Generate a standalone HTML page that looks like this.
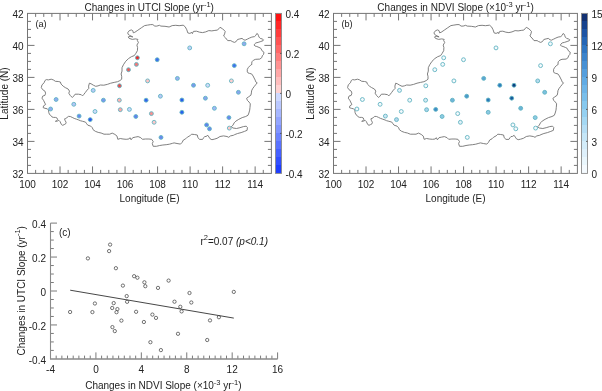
<!DOCTYPE html>
<html><head><meta charset="utf-8"><style>
html,body{margin:0;padding:0;background:#fff;}
body{width:602px;height:391px;overflow:hidden;font-family:"Liberation Sans", sans-serif;}
svg{display:block;filter:blur(0.35px);}
</style></head><body>
<svg width="602" height="391" viewBox="0 0 602 391" font-family='"Liberation Sans", sans-serif' fill="#222">
<rect width="602" height="391" fill="#fff"/>
<polygon points="127.7,32.8 129.2,30.7 131.3,29.9 132.8,30.7 133.3,32.8 134.8,32.3 137.9,30.2 141.5,27.7 144.6,25.6 147.6,25.1 150.7,24.6 152.8,24.6 154.8,26.1 156.8,26.1 159.4,25.3 160.9,26.1 165,26.3 169.1,27 172.2,25.6 175.8,25.3 179.1,25.7 183.2,25.2 185.2,26.8 186.8,29.8 187.8,32.9 189.8,33.4 191.9,32.4 192.4,33.6 193.4,31.4 196.5,31.2 199.6,32.2 202.6,32.6 205.7,31.9 208.8,30.6 211.8,30.9 214.9,30.4 217.5,30.1 220,27.3 222.6,28.8 225.2,31.4 224.6,33.9 223.6,36 225.7,38 227.7,40.6 230.8,40.6 232.2,41.5 234.4,42.4 236.2,41.5 237.5,39.5 239.8,38.9 242,38.4 243.8,39.8 245.1,40.2 247.4,39.1 249.6,38 251.8,37.1 254.5,36.6 255.9,35.3 256.8,33.5 258.1,34.4 258.5,35.7 259,37.1 260.3,38.4 262.1,38.9 263.5,39.8 263,40.7 260.8,41.5 258.1,42.4 255.9,42.9 254.5,44.2 254.1,45.1 255,46 256.8,46.5 259,47.4 260.8,48.3 261.7,50 262.6,51.4 264,52.3 263.5,54.5 262.3,55.8 261.8,57.6 259.8,59.1 255.7,59.3 253.6,60.1 252.1,61.6 251.6,63.2 252.1,64.2 250.6,65.2 248.5,67.3 247.3,69.3 247.3,71.9 248,72.9 249.5,73.4 251.6,73.9 253.1,76 254.1,78 255.2,80.1 255.7,81.8 257.2,82.8 255.7,84.7 254.1,86.7 252.6,88.7 251.6,90.8 251.4,92.9 250.9,95.2 248.5,96.9 246.6,98.3 247.4,100.4 249.1,102.1 250.3,103.8 250,107.3 249.7,110.1 248.9,113 248,115.3 245.7,116.5 242.2,117.6 238.8,119.3 235.9,121.1 234.2,122.8 233,125.1 231.3,126.8 233,128 236.5,128.5 239.9,127.7 243.4,126.6 246.2,126.2 247.4,127.4 247.1,130.3 244.5,131.4 241.1,132.6 237.6,133.5 234.7,134.6 233.4,135.3 230.5,135.9 228.7,137.3 227,136.5 223.5,135.9 220,136.5 217.1,138.3 214.2,139.2 211.9,139.7 210.1,138.8 209,137.1 207.8,135.3 206,136.5 204.7,136.5 203.7,137.7 202.6,139.4 199.7,139.4 197.9,137.7 197.3,135 194.4,134.5 191.5,134.2 189.8,135.9 187.4,137.1 185.7,138.8 183.4,140 182.2,142.3 180.5,144.1 177,143.5 174.1,142.9 172.6,143.3 169.4,144.2 166.2,144.7 162.9,145 159.7,145.5 156.4,146.3 153.2,146.3 152.3,143.6 153.2,141.5 151.6,139.3 148.9,139 145.6,139 142.4,139.3 140.8,137.7 138.1,136.6 135.4,137.1 132.7,137.7 131.1,139.8 130,137.7 128.9,139 126.2,139.3 123,139 120.3,138.5 117.8,139.3 117,136.1 114.9,134.4 112.2,133.1 109.7,134.2 106.8,134.2 104,134.2 101.1,133 98.2,132.4 95.3,131.3 93,129.6 92.4,127.8 90.7,126.1 87.8,125.2 86.7,123.8 85.5,122.1 82.6,121.3 80.3,120.7 78.8,120 76.5,119.2 74.2,118.4 72.2,117.4 70.3,116.5 68.4,116.4 66.9,117.7 65.7,118.4 64.6,118.8 65,120.3 66.1,122.3 65.7,123.8 64.2,124.6 62.7,125.3 61.5,124.6 60.7,123 60,121.5 58.8,120.3 57.3,121.1 55.4,121.3 56.5,120.7 57.7,119.6 56.9,117.9 55.4,117.4 53.4,117.4 51.9,116.9 50.8,115.4 49.6,114.6 48.8,112.7 48.5,110 47.3,108.8 45,108.3 43.2,107.7 43.5,105.9 45.6,104.5 44.9,103.1 43.5,100.3 42,98.2 42.7,96.1 44.9,95.4 45.6,93.2 44.9,91.1 42.7,89.7 41.3,87.6 42,84.8 44.2,82.7 44.9,80.6 46.3,79.6 48.4,79.9 51.2,79.2 53.3,79.9 55.4,81.3 58.2,81.5 60.4,82 61.1,84.1 63.2,86.2 65.3,87.6 68.1,89 69.5,91.1 68.8,93.2 70.2,95.4 72.3,97.5 73.7,96.1 75.1,94.2 78.5,94.2 81.3,94.7 82.5,95.9 83.6,94.7 85.4,92.4 87.1,90.1 88.8,88.4 88.6,86.1 89.4,83.2 91.1,83.8 93.4,85.2 95.7,86.3 98,85.9 100.3,85 103.8,85.2 107.3,84.4 110.7,83.2 114.2,82.4 117.6,81.7 119.9,80.6 121.7,79.2 121.7,76.3 121.1,74 122,71.1 122,67.7 123.4,64.8 125.7,61.3 128.6,58.5 131.4,56.7 134.3,55.6 135.9,53.3 137.4,50.7 137.6,47.6 136.9,45.1 138.4,42.5 137.4,40.5 137.9,39.4 135.4,38.9 132.3,39.4 129.2,38.4 128.2,36.9 130.2,36.4 132.8,36.9 129.7,35.4 128.2,34.3" fill="none" stroke="#727272" stroke-width="0.9" stroke-linejoin="round"/>
<circle cx="56.1" cy="99.5" r="1.95" fill="#8eabf3" stroke="#62b4c2" stroke-width="0.9"/>
<circle cx="73.8" cy="104.3" r="1.95" fill="#b4c6f8" stroke="#62b4c2" stroke-width="0.9"/>
<circle cx="50.6" cy="109" r="1.95" fill="#93adf3" stroke="#62b4c2" stroke-width="0.9"/>
<circle cx="93.2" cy="90.4" r="1.95" fill="#b8cbf8" stroke="#62b4c2" stroke-width="0.9"/>
<circle cx="95" cy="111.5" r="1.95" fill="#d0dcfc" stroke="#62b4c2" stroke-width="0.9"/>
<circle cx="79.1" cy="116.1" r="1.95" fill="#6488f0" stroke="#62b4c2" stroke-width="0.9"/>
<circle cx="90.2" cy="119.6" r="1.95" fill="#2a55f0" stroke="#62b4c2" stroke-width="0.9"/>
<circle cx="136.4" cy="64.4" r="1.95" fill="#f27878" stroke="#62b4c2" stroke-width="0.9"/>
<circle cx="128.5" cy="69.7" r="1.95" fill="#f05a5a" stroke="#62b4c2" stroke-width="0.9"/>
<circle cx="119.5" cy="85.8" r="1.95" fill="#f04a4a" stroke="#62b4c2" stroke-width="0.9"/>
<circle cx="147.6" cy="80.9" r="1.95" fill="#ffc4c4" stroke="#62b4c2" stroke-width="0.9"/>
<circle cx="103.4" cy="100.2" r="1.95" fill="#7898f0" stroke="#62b4c2" stroke-width="0.9"/>
<circle cx="119.3" cy="100.2" r="1.95" fill="#ffb4b4" stroke="#62b4c2" stroke-width="0.9"/>
<circle cx="146.1" cy="100.2" r="1.95" fill="#3262f0" stroke="#62b4c2" stroke-width="0.9"/>
<circle cx="137.4" cy="57.8" r="1.95" fill="#f02a2a" stroke="#62b4c2" stroke-width="0.9"/>
<circle cx="157.2" cy="59.7" r="1.95" fill="#3c6ef0" stroke="#62b4c2" stroke-width="0.9"/>
<circle cx="189.7" cy="47.9" r="1.95" fill="#c2d2fc" stroke="#62b4c2" stroke-width="0.9"/>
<circle cx="177.4" cy="78.4" r="1.95" fill="#98b0f4" stroke="#62b4c2" stroke-width="0.9"/>
<circle cx="193.5" cy="85.3" r="1.95" fill="#7898f0" stroke="#62b4c2" stroke-width="0.9"/>
<circle cx="207.7" cy="85.3" r="1.95" fill="#d0dcfc" stroke="#62b4c2" stroke-width="0.9"/>
<circle cx="160.4" cy="96.2" r="1.95" fill="#b8c8f8" stroke="#62b4c2" stroke-width="0.9"/>
<circle cx="181.9" cy="100" r="1.95" fill="#2858f0" stroke="#62b4c2" stroke-width="0.9"/>
<circle cx="205.4" cy="98.2" r="1.95" fill="#88a4f0" stroke="#62b4c2" stroke-width="0.9"/>
<circle cx="181.9" cy="112.3" r="1.95" fill="#2860f0" stroke="#62b4c2" stroke-width="0.9"/>
<circle cx="151.4" cy="113.6" r="1.95" fill="#f89090" stroke="#62b4c2" stroke-width="0.9"/>
<circle cx="120.3" cy="109.7" r="1.95" fill="#ffa8a8" stroke="#62b4c2" stroke-width="0.9"/>
<circle cx="129.4" cy="109.4" r="1.95" fill="#c8d8fc" stroke="#62b4c2" stroke-width="0.9"/>
<circle cx="135.8" cy="116.5" r="1.95" fill="#6080f0" stroke="#62b4c2" stroke-width="0.9"/>
<circle cx="154.1" cy="122.3" r="1.95" fill="#ffc8c8" stroke="#62b4c2" stroke-width="0.9"/>
<circle cx="161" cy="137.4" r="1.95" fill="#6888f0" stroke="#62b4c2" stroke-width="0.9"/>
<circle cx="234.3" cy="65.6" r="1.95" fill="#4070f0" stroke="#62b4c2" stroke-width="0.9"/>
<circle cx="231.4" cy="80.9" r="1.95" fill="#ffd0d0" stroke="#62b4c2" stroke-width="0.9"/>
<circle cx="238.4" cy="92.3" r="1.95" fill="#88a4f0" stroke="#62b4c2" stroke-width="0.9"/>
<circle cx="214.4" cy="108.3" r="1.95" fill="#a0b8f8" stroke="#62b4c2" stroke-width="0.9"/>
<circle cx="228.9" cy="117.6" r="1.95" fill="#6888f0" stroke="#62b4c2" stroke-width="0.9"/>
<circle cx="206.6" cy="124.9" r="1.95" fill="#5c80f0" stroke="#62b4c2" stroke-width="0.9"/>
<circle cx="209.5" cy="128.8" r="1.95" fill="#6888f0" stroke="#62b4c2" stroke-width="0.9"/>
<circle cx="229.3" cy="128.1" r="1.95" fill="#ffc8c8" stroke="#62b4c2" stroke-width="0.9"/>
<circle cx="244.1" cy="43.8" r="1.95" fill="#90a8f0" stroke="#62b4c2" stroke-width="0.9"/>
<path d="M35.63 173.4V169.9M35.63 13.4V16.9M43.76 173.4V169.9M43.76 13.4V16.9M51.89 173.4V169.9M51.89 13.4V16.9M60.02 173.4V166.4M60.02 13.4V20.4M68.15 173.4V169.9M68.15 13.4V16.9M76.28 173.4V169.9M76.28 13.4V16.9M84.41 173.4V169.9M84.41 13.4V16.9M92.54 173.4V166.4M92.54 13.4V20.4M100.67 173.4V169.9M100.67 13.4V16.9M108.8 173.4V169.9M108.8 13.4V16.9M116.93 173.4V169.9M116.93 13.4V16.9M125.06 173.4V166.4M125.06 13.4V20.4M133.19 173.4V169.9M133.19 13.4V16.9M141.32 173.4V169.9M141.32 13.4V16.9M149.45 173.4V169.9M149.45 13.4V16.9M157.58 173.4V166.4M157.58 13.4V20.4M165.71 173.4V169.9M165.71 13.4V16.9M173.84 173.4V169.9M173.84 13.4V16.9M181.97 173.4V169.9M181.97 13.4V16.9M190.1 173.4V166.4M190.1 13.4V20.4M198.23 173.4V169.9M198.23 13.4V16.9M206.36 173.4V169.9M206.36 13.4V16.9M214.49 173.4V169.9M214.49 13.4V16.9M222.62 173.4V166.4M222.62 13.4V20.4M230.75 173.4V169.9M230.75 13.4V16.9M238.88 173.4V169.9M238.88 13.4V16.9M247.01 173.4V169.9M247.01 13.4V16.9M255.14 173.4V166.4M255.14 13.4V20.4M263.27 173.4V169.9M263.27 13.4V16.9M27.5 165.4H31M271.4 165.4H267.9M27.5 157.4H31M271.4 157.4H267.9M27.5 149.4H31M271.4 149.4H267.9M27.5 141.4H34.5M271.4 141.4H264.4M27.5 133.4H31M271.4 133.4H267.9M27.5 125.4H31M271.4 125.4H267.9M27.5 117.4H31M271.4 117.4H267.9M27.5 109.4H34.5M271.4 109.4H264.4M27.5 101.4H31M271.4 101.4H267.9M27.5 93.4H31M271.4 93.4H267.9M27.5 85.4H31M271.4 85.4H267.9M27.5 77.4H34.5M271.4 77.4H264.4M27.5 69.4H31M271.4 69.4H267.9M27.5 61.4H31M271.4 61.4H267.9M27.5 53.4H31M271.4 53.4H267.9M27.5 45.4H34.5M271.4 45.4H264.4M27.5 37.4H31M271.4 37.4H267.9M27.5 29.4H31M271.4 29.4H267.9M27.5 21.4H31M271.4 21.4H267.9" stroke="#757575" stroke-width="1" fill="none"/>
<rect x="27.5" y="13.4" width="243.9" height="160" fill="none" stroke="#757575" stroke-width="1"/>
<text x="27.5" y="187.5" text-anchor="middle" font-size="10">100</text>
<text x="60.02" y="187.5" text-anchor="middle" font-size="10">102</text>
<text x="92.54" y="187.5" text-anchor="middle" font-size="10">104</text>
<text x="125.06" y="187.5" text-anchor="middle" font-size="10">106</text>
<text x="157.58" y="187.5" text-anchor="middle" font-size="10">108</text>
<text x="190.1" y="187.5" text-anchor="middle" font-size="10">110</text>
<text x="222.62" y="187.5" text-anchor="middle" font-size="10">112</text>
<text x="255.14" y="187.5" text-anchor="middle" font-size="10">114</text>
<text x="23.5" y="178.1" text-anchor="end" font-size="10">32</text>
<text x="23.5" y="146.1" text-anchor="end" font-size="10">34</text>
<text x="23.5" y="114.1" text-anchor="end" font-size="10">36</text>
<text x="23.5" y="82.1" text-anchor="end" font-size="10">38</text>
<text x="23.5" y="50.1" text-anchor="end" font-size="10">40</text>
<text x="23.5" y="18.1" text-anchor="end" font-size="10">42</text>
<text x="149.55" y="201.6" text-anchor="middle" font-size="10">Longitude (E)</text>
<text transform="translate(8.3,93.5) rotate(-90)" text-anchor="middle" font-size="10">Latitude (N)</text>
<text x="149.2" y="11.1" text-anchor="middle" font-size="10">Changes in UTCI Slope (yr<tspan dy="-4.3" font-size="7.5">-1</tspan><tspan dy="4.3">)</tspan></text>
<text x="35.4" y="26.5" text-anchor="start" font-size="9.2">(a)</text>
<defs><linearGradient id="g0" x1="0" y1="0" x2="0" y2="1"><stop offset="0" stop-color="#ff1212"/><stop offset="0.05" stop-color="#ff1212"/><stop offset="0.05" stop-color="#ff2727"/><stop offset="0.1" stop-color="#ff2727"/><stop offset="0.1" stop-color="#ff3d3d"/><stop offset="0.15" stop-color="#ff3d3d"/><stop offset="0.15" stop-color="#ff5252"/><stop offset="0.2" stop-color="#ff5252"/><stop offset="0.2" stop-color="#ff6767"/><stop offset="0.25" stop-color="#ff6767"/><stop offset="0.25" stop-color="#ff7d7d"/><stop offset="0.3" stop-color="#ff7d7d"/><stop offset="0.3" stop-color="#ff9292"/><stop offset="0.35" stop-color="#ff9292"/><stop offset="0.35" stop-color="#ffa7a7"/><stop offset="0.4" stop-color="#ffa7a7"/><stop offset="0.4" stop-color="#ffbdbd"/><stop offset="0.45" stop-color="#ffbdbd"/><stop offset="0.45" stop-color="#ffd2d2"/><stop offset="0.5" stop-color="#ffd2d2"/><stop offset="0.5" stop-color="#ced9ff"/><stop offset="0.55" stop-color="#ced9ff"/><stop offset="0.55" stop-color="#bac8ff"/><stop offset="0.6" stop-color="#bac8ff"/><stop offset="0.6" stop-color="#a7b7ff"/><stop offset="0.65" stop-color="#a7b7ff"/><stop offset="0.65" stop-color="#93a5ff"/><stop offset="0.7" stop-color="#93a5ff"/><stop offset="0.7" stop-color="#8094ff"/><stop offset="0.75" stop-color="#8094ff"/><stop offset="0.75" stop-color="#6c83ff"/><stop offset="0.8" stop-color="#6c83ff"/><stop offset="0.8" stop-color="#5972ff"/><stop offset="0.85" stop-color="#5972ff"/><stop offset="0.85" stop-color="#4560ff"/><stop offset="0.9" stop-color="#4560ff"/><stop offset="0.9" stop-color="#324fff"/><stop offset="0.95" stop-color="#324fff"/><stop offset="0.95" stop-color="#1e3eff"/><stop offset="1" stop-color="#1e3eff"/></linearGradient></defs>
<rect x="275.5" y="13.4" width="6" height="160" fill="url(#g0)" stroke="#8a8a8a" stroke-width="0.9"/>
<text x="285.4" y="17.6" text-anchor="start" font-size="10">0.4</text>
<path d="M280 53.4H281.5" stroke="#444" stroke-width="0.8"/>
<text x="285.4" y="57.6" text-anchor="start" font-size="10">0.2</text>
<path d="M280 93.4H281.5" stroke="#444" stroke-width="0.8"/>
<text x="285.4" y="97.6" text-anchor="start" font-size="10">0</text>
<path d="M280 133.4H281.5" stroke="#444" stroke-width="0.8"/>
<text x="285.4" y="137.6" text-anchor="start" font-size="10">-0.2</text>
<text x="285.4" y="177.6" text-anchor="start" font-size="10">-0.4</text>
<polygon points="434,32.8 435.5,30.7 437.6,29.9 439.1,30.7 439.6,32.8 441.1,32.3 444.2,30.2 447.8,27.7 450.9,25.6 453.9,25.1 457,24.6 459.1,24.6 461.1,26.1 463.1,26.1 465.7,25.3 467.2,26.1 471.3,26.3 475.4,27 478.5,25.6 482.1,25.3 485.4,25.7 489.5,25.2 491.5,26.8 493.1,29.8 494.1,32.9 496.1,33.4 498.2,32.4 498.7,33.6 499.7,31.4 502.8,31.2 505.9,32.2 508.9,32.6 512,31.9 515.1,30.6 518.1,30.9 521.2,30.4 523.8,30.1 526.3,27.3 528.9,28.8 531.5,31.4 530.9,33.9 529.9,36 532,38 534,40.6 537.1,40.6 538.5,41.5 540.7,42.4 542.5,41.5 543.8,39.5 546.1,38.9 548.3,38.4 550.1,39.8 551.4,40.2 553.7,39.1 555.9,38 558.1,37.1 560.8,36.6 562.2,35.3 563.1,33.5 564.4,34.4 564.8,35.7 565.3,37.1 566.6,38.4 568.4,38.9 569.8,39.8 569.3,40.7 567.1,41.5 564.4,42.4 562.2,42.9 560.8,44.2 560.4,45.1 561.3,46 563.1,46.5 565.3,47.4 567.1,48.3 568,50 568.9,51.4 570.3,52.3 569.8,54.5 568.6,55.8 568.1,57.6 566.1,59.1 562,59.3 559.9,60.1 558.4,61.6 557.9,63.2 558.4,64.2 556.9,65.2 554.8,67.3 553.6,69.3 553.6,71.9 554.3,72.9 555.8,73.4 557.9,73.9 559.4,76 560.4,78 561.5,80.1 562,81.8 563.5,82.8 562,84.7 560.4,86.7 558.9,88.7 557.9,90.8 557.7,92.9 557.2,95.2 554.8,96.9 552.9,98.3 553.7,100.4 555.4,102.1 556.6,103.8 556.3,107.3 556,110.1 555.2,113 554.3,115.3 552,116.5 548.5,117.6 545.1,119.3 542.2,121.1 540.5,122.8 539.3,125.1 537.6,126.8 539.3,128 542.8,128.5 546.2,127.7 549.7,126.6 552.5,126.2 553.7,127.4 553.4,130.3 550.8,131.4 547.4,132.6 543.9,133.5 541,134.6 539.7,135.3 536.8,135.9 535,137.3 533.3,136.5 529.8,135.9 526.3,136.5 523.4,138.3 520.5,139.2 518.2,139.7 516.4,138.8 515.3,137.1 514.1,135.3 512.3,136.5 511,136.5 510,137.7 508.9,139.4 506,139.4 504.2,137.7 503.6,135 500.7,134.5 497.8,134.2 496.1,135.9 493.7,137.1 492,138.8 489.7,140 488.5,142.3 486.8,144.1 483.3,143.5 480.4,142.9 478.9,143.3 475.7,144.2 472.5,144.7 469.2,145 466,145.5 462.7,146.3 459.5,146.3 458.6,143.6 459.5,141.5 457.9,139.3 455.2,139 451.9,139 448.7,139.3 447.1,137.7 444.4,136.6 441.7,137.1 439,137.7 437.4,139.8 436.3,137.7 435.2,139 432.5,139.3 429.3,139 426.6,138.5 424.1,139.3 423.3,136.1 421.2,134.4 418.5,133.1 416,134.2 413.1,134.2 410.3,134.2 407.4,133 404.5,132.4 401.6,131.3 399.3,129.6 398.7,127.8 397,126.1 394.1,125.2 393,123.8 391.8,122.1 388.9,121.3 386.6,120.7 385.1,120 382.8,119.2 380.5,118.4 378.5,117.4 376.6,116.5 374.7,116.4 373.2,117.7 372,118.4 370.9,118.8 371.3,120.3 372.4,122.3 372,123.8 370.5,124.6 369,125.3 367.8,124.6 367,123 366.3,121.5 365.1,120.3 363.6,121.1 361.7,121.3 362.8,120.7 364,119.6 363.2,117.9 361.7,117.4 359.7,117.4 358.2,116.9 357.1,115.4 355.9,114.6 355.1,112.7 354.8,110 353.6,108.8 351.3,108.3 349.5,107.7 349.8,105.9 351.9,104.5 351.2,103.1 349.8,100.3 348.3,98.2 349,96.1 351.2,95.4 351.9,93.2 351.2,91.1 349,89.7 347.6,87.6 348.3,84.8 350.5,82.7 351.2,80.6 352.6,79.6 354.7,79.9 357.5,79.2 359.6,79.9 361.7,81.3 364.5,81.5 366.7,82 367.4,84.1 369.5,86.2 371.6,87.6 374.4,89 375.8,91.1 375.1,93.2 376.5,95.4 378.6,97.5 380,96.1 381.4,94.2 384.8,94.2 387.6,94.7 388.8,95.9 389.9,94.7 391.7,92.4 393.4,90.1 395.1,88.4 394.9,86.1 395.7,83.2 397.4,83.8 399.7,85.2 402,86.3 404.3,85.9 406.6,85 410.1,85.2 413.6,84.4 417,83.2 420.5,82.4 423.9,81.7 426.2,80.6 428,79.2 428,76.3 427.4,74 428.3,71.1 428.3,67.7 429.7,64.8 432,61.3 434.9,58.5 437.7,56.7 440.6,55.6 442.2,53.3 443.7,50.7 443.9,47.6 443.2,45.1 444.7,42.5 443.7,40.5 444.2,39.4 441.7,38.9 438.6,39.4 435.5,38.4 434.5,36.9 436.5,36.4 439.1,36.9 436,35.4 434.5,34.3" fill="none" stroke="#727272" stroke-width="0.9" stroke-linejoin="round"/>
<circle cx="362.4" cy="99.5" r="1.95" fill="#f4f9fd" stroke="#62b4c2" stroke-width="0.9"/>
<circle cx="380.1" cy="104.3" r="1.95" fill="#f4f9fd" stroke="#62b4c2" stroke-width="0.9"/>
<circle cx="356.9" cy="109" r="1.95" fill="#f4f9fd" stroke="#62b4c2" stroke-width="0.9"/>
<circle cx="399.5" cy="90.4" r="1.95" fill="#e4f0f9" stroke="#62b4c2" stroke-width="0.9"/>
<circle cx="401.3" cy="111.5" r="1.95" fill="#f4f9fd" stroke="#62b4c2" stroke-width="0.9"/>
<circle cx="385.4" cy="116.1" r="1.95" fill="#cfe5f3" stroke="#62b4c2" stroke-width="0.9"/>
<circle cx="396.5" cy="119.6" r="1.95" fill="#b4d6ec" stroke="#62b4c2" stroke-width="0.9"/>
<circle cx="442.7" cy="64.4" r="1.95" fill="#f4f9fd" stroke="#62b4c2" stroke-width="0.9"/>
<circle cx="434.8" cy="69.7" r="1.95" fill="#f4f9fd" stroke="#62b4c2" stroke-width="0.9"/>
<circle cx="425.8" cy="85.8" r="1.95" fill="#f4f9fd" stroke="#62b4c2" stroke-width="0.9"/>
<circle cx="453.9" cy="80.9" r="1.95" fill="#f4f9fd" stroke="#62b4c2" stroke-width="0.9"/>
<circle cx="409.7" cy="100.2" r="1.95" fill="#eef6fb" stroke="#62b4c2" stroke-width="0.9"/>
<circle cx="425.6" cy="100.2" r="1.95" fill="#d6ebf5" stroke="#62b4c2" stroke-width="0.9"/>
<circle cx="452.4" cy="100.2" r="1.95" fill="#6fb4da" stroke="#62b4c2" stroke-width="0.9"/>
<circle cx="443.7" cy="57.8" r="1.95" fill="#f4f9fd" stroke="#62b4c2" stroke-width="0.9"/>
<circle cx="463.5" cy="59.7" r="1.95" fill="#f4f9fd" stroke="#62b4c2" stroke-width="0.9"/>
<circle cx="496" cy="47.9" r="1.95" fill="#f4f9fd" stroke="#62b4c2" stroke-width="0.9"/>
<circle cx="483.7" cy="78.4" r="1.95" fill="#5ba5d4" stroke="#62b4c2" stroke-width="0.9"/>
<circle cx="499.8" cy="85.3" r="1.95" fill="#2d7cbf" stroke="#62b4c2" stroke-width="0.9"/>
<circle cx="514" cy="85.3" r="1.95" fill="#0c3f82" stroke="#62b4c2" stroke-width="0.9"/>
<circle cx="466.7" cy="96.2" r="1.95" fill="#4a98cc" stroke="#62b4c2" stroke-width="0.9"/>
<circle cx="488.2" cy="100" r="1.95" fill="#2a78bb" stroke="#62b4c2" stroke-width="0.9"/>
<circle cx="511.7" cy="98.2" r="1.95" fill="#185a9c" stroke="#62b4c2" stroke-width="0.9"/>
<circle cx="488.2" cy="112.3" r="1.95" fill="#8cc8e4" stroke="#62b4c2" stroke-width="0.9"/>
<circle cx="457.7" cy="113.6" r="1.95" fill="#f4f9fd" stroke="#62b4c2" stroke-width="0.9"/>
<circle cx="426.6" cy="109.7" r="1.95" fill="#a8d4ec" stroke="#62b4c2" stroke-width="0.9"/>
<circle cx="435.7" cy="109.4" r="1.95" fill="#3c8cc8" stroke="#62b4c2" stroke-width="0.9"/>
<circle cx="442.1" cy="116.5" r="1.95" fill="#8ccae4" stroke="#62b4c2" stroke-width="0.9"/>
<circle cx="460.4" cy="122.3" r="1.95" fill="#e0f0f8" stroke="#62b4c2" stroke-width="0.9"/>
<circle cx="467.3" cy="137.4" r="1.95" fill="#f4f9fd" stroke="#62b4c2" stroke-width="0.9"/>
<circle cx="540.6" cy="65.6" r="1.95" fill="#f4f9fd" stroke="#62b4c2" stroke-width="0.9"/>
<circle cx="537.7" cy="80.9" r="1.95" fill="#b4daee" stroke="#62b4c2" stroke-width="0.9"/>
<circle cx="544.7" cy="92.3" r="1.95" fill="#7cc0e0" stroke="#62b4c2" stroke-width="0.9"/>
<circle cx="520.7" cy="108.3" r="1.95" fill="#6cb4d8" stroke="#62b4c2" stroke-width="0.9"/>
<circle cx="535.2" cy="117.6" r="1.95" fill="#8ccae4" stroke="#62b4c2" stroke-width="0.9"/>
<circle cx="512.9" cy="124.9" r="1.95" fill="#f4f9fd" stroke="#62b4c2" stroke-width="0.9"/>
<circle cx="515.8" cy="128.8" r="1.95" fill="#f4f9fd" stroke="#62b4c2" stroke-width="0.9"/>
<circle cx="535.6" cy="128.1" r="1.95" fill="#f4f9fd" stroke="#62b4c2" stroke-width="0.9"/>
<circle cx="550.4" cy="43.8" r="1.95" fill="#f4f9fd" stroke="#62b4c2" stroke-width="0.9"/>
<path d="M341.63 173.4V169.9M341.63 13.4V16.9M349.76 173.4V169.9M349.76 13.4V16.9M357.89 173.4V169.9M357.89 13.4V16.9M366.02 173.4V166.4M366.02 13.4V20.4M374.15 173.4V169.9M374.15 13.4V16.9M382.28 173.4V169.9M382.28 13.4V16.9M390.41 173.4V169.9M390.41 13.4V16.9M398.54 173.4V166.4M398.54 13.4V20.4M406.67 173.4V169.9M406.67 13.4V16.9M414.8 173.4V169.9M414.8 13.4V16.9M422.93 173.4V169.9M422.93 13.4V16.9M431.06 173.4V166.4M431.06 13.4V20.4M439.19 173.4V169.9M439.19 13.4V16.9M447.32 173.4V169.9M447.32 13.4V16.9M455.45 173.4V169.9M455.45 13.4V16.9M463.58 173.4V166.4M463.58 13.4V20.4M471.71 173.4V169.9M471.71 13.4V16.9M479.84 173.4V169.9M479.84 13.4V16.9M487.97 173.4V169.9M487.97 13.4V16.9M496.1 173.4V166.4M496.1 13.4V20.4M504.23 173.4V169.9M504.23 13.4V16.9M512.36 173.4V169.9M512.36 13.4V16.9M520.49 173.4V169.9M520.49 13.4V16.9M528.62 173.4V166.4M528.62 13.4V20.4M536.75 173.4V169.9M536.75 13.4V16.9M544.88 173.4V169.9M544.88 13.4V16.9M553.01 173.4V169.9M553.01 13.4V16.9M561.14 173.4V166.4M561.14 13.4V20.4M569.27 173.4V169.9M569.27 13.4V16.9M333.5 165.4H337M577.4 165.4H573.9M333.5 157.4H337M577.4 157.4H573.9M333.5 149.4H337M577.4 149.4H573.9M333.5 141.4H340.5M577.4 141.4H570.4M333.5 133.4H337M577.4 133.4H573.9M333.5 125.4H337M577.4 125.4H573.9M333.5 117.4H337M577.4 117.4H573.9M333.5 109.4H340.5M577.4 109.4H570.4M333.5 101.4H337M577.4 101.4H573.9M333.5 93.4H337M577.4 93.4H573.9M333.5 85.4H337M577.4 85.4H573.9M333.5 77.4H340.5M577.4 77.4H570.4M333.5 69.4H337M577.4 69.4H573.9M333.5 61.4H337M577.4 61.4H573.9M333.5 53.4H337M577.4 53.4H573.9M333.5 45.4H340.5M577.4 45.4H570.4M333.5 37.4H337M577.4 37.4H573.9M333.5 29.4H337M577.4 29.4H573.9M333.5 21.4H337M577.4 21.4H573.9" stroke="#757575" stroke-width="1" fill="none"/>
<rect x="333.5" y="13.4" width="243.9" height="160" fill="none" stroke="#757575" stroke-width="1"/>
<text x="333.5" y="187.5" text-anchor="middle" font-size="10">100</text>
<text x="366.02" y="187.5" text-anchor="middle" font-size="10">102</text>
<text x="398.54" y="187.5" text-anchor="middle" font-size="10">104</text>
<text x="431.06" y="187.5" text-anchor="middle" font-size="10">106</text>
<text x="463.58" y="187.5" text-anchor="middle" font-size="10">108</text>
<text x="496.1" y="187.5" text-anchor="middle" font-size="10">110</text>
<text x="528.62" y="187.5" text-anchor="middle" font-size="10">112</text>
<text x="561.14" y="187.5" text-anchor="middle" font-size="10">114</text>
<text x="329.5" y="178.1" text-anchor="end" font-size="10">32</text>
<text x="329.5" y="146.1" text-anchor="end" font-size="10">34</text>
<text x="329.5" y="114.1" text-anchor="end" font-size="10">36</text>
<text x="329.5" y="82.1" text-anchor="end" font-size="10">38</text>
<text x="329.5" y="50.1" text-anchor="end" font-size="10">40</text>
<text x="329.5" y="18.1" text-anchor="end" font-size="10">42</text>
<text x="455.55" y="201.6" text-anchor="middle" font-size="10">Longitude (E)</text>
<text transform="translate(314.3,93.5) rotate(-90)" text-anchor="middle" font-size="10">Latitude (N)</text>
<text x="455.6" y="11.1" text-anchor="middle" font-size="10">Changes in NDVI Slope (×10<tspan dy="-4.3" font-size="7.5">-3</tspan><tspan dy="4.3"> yr</tspan><tspan dy="-4.3" font-size="7.5">-1</tspan><tspan dy="4.3">)</tspan></text>
<text x="341.4" y="26.5" text-anchor="start" font-size="9.2">(b)</text>
<defs><linearGradient id="g306" x1="0" y1="0" x2="0" y2="1"><stop offset="0" stop-color="#123172"/><stop offset="0.05" stop-color="#123172"/><stop offset="0.05" stop-color="#16428d"/><stop offset="0.1" stop-color="#16428d"/><stop offset="0.1" stop-color="#1d54a4"/><stop offset="0.15" stop-color="#1d54a4"/><stop offset="0.15" stop-color="#2465b5"/><stop offset="0.2" stop-color="#2465b5"/><stop offset="0.2" stop-color="#2e75c2"/><stop offset="0.25" stop-color="#2e75c2"/><stop offset="0.25" stop-color="#3b83cb"/><stop offset="0.3" stop-color="#3b83cb"/><stop offset="0.3" stop-color="#4790d4"/><stop offset="0.35" stop-color="#4790d4"/><stop offset="0.35" stop-color="#549edd"/><stop offset="0.4" stop-color="#549edd"/><stop offset="0.4" stop-color="#60aae3"/><stop offset="0.45" stop-color="#60aae3"/><stop offset="0.45" stop-color="#6db4e7"/><stop offset="0.5" stop-color="#6db4e7"/><stop offset="0.5" stop-color="#79beea"/><stop offset="0.55" stop-color="#79beea"/><stop offset="0.55" stop-color="#86c8ee"/><stop offset="0.6" stop-color="#86c8ee"/><stop offset="0.6" stop-color="#94d0f1"/><stop offset="0.65" stop-color="#94d0f1"/><stop offset="0.65" stop-color="#a4d8f3"/><stop offset="0.7" stop-color="#a4d8f3"/><stop offset="0.7" stop-color="#b5def5"/><stop offset="0.75" stop-color="#b5def5"/><stop offset="0.75" stop-color="#c5e6f7"/><stop offset="0.8" stop-color="#c5e6f7"/><stop offset="0.8" stop-color="#d3ecf9"/><stop offset="0.85" stop-color="#d3ecf9"/><stop offset="0.85" stop-color="#def0fb"/><stop offset="0.9" stop-color="#def0fb"/><stop offset="0.9" stop-color="#e9f6fc"/><stop offset="0.95" stop-color="#e9f6fc"/><stop offset="0.95" stop-color="#f4fafe"/><stop offset="1" stop-color="#f4fafe"/></linearGradient></defs>
<rect x="581.5" y="13.4" width="6" height="160" fill="url(#g306)" stroke="#8a8a8a" stroke-width="0.9"/>
<text x="591.4" y="17.6" text-anchor="start" font-size="10">15</text>
<path d="M586 45.4H587.5" stroke="#444" stroke-width="0.8"/>
<text x="591.4" y="49.6" text-anchor="start" font-size="10">12</text>
<path d="M586 77.4H587.5" stroke="#444" stroke-width="0.8"/>
<text x="591.4" y="81.6" text-anchor="start" font-size="10">9</text>
<path d="M586 109.4H587.5" stroke="#444" stroke-width="0.8"/>
<text x="591.4" y="113.6" text-anchor="start" font-size="10">6</text>
<path d="M586 141.4H587.5" stroke="#444" stroke-width="0.8"/>
<text x="591.4" y="145.6" text-anchor="start" font-size="10">3</text>
<text x="591.4" y="177.6" text-anchor="start" font-size="10">0</text>
<path d="M56.18 358.9V355.6M61.86 358.9V355.6M67.53 358.9V355.6M73.21 358.9V355.6M78.89 358.9V355.6M84.56 358.9V355.6M90.24 358.9V355.6M95.92 358.9V352.4M101.6 358.9V355.6M107.28 358.9V355.6M112.95 358.9V355.6M118.63 358.9V355.6M124.31 358.9V355.6M129.99 358.9V355.6M135.66 358.9V355.6M141.34 358.9V352.4M147.02 358.9V355.6M152.69 358.9V355.6M158.37 358.9V355.6M164.05 358.9V355.6M169.73 358.9V355.6M175.41 358.9V355.6M181.08 358.9V355.6M186.76 358.9V352.4M192.44 358.9V355.6M198.12 358.9V355.6M203.79 358.9V355.6M209.47 358.9V355.6M215.15 358.9V355.6M220.83 358.9V355.6M226.5 358.9V355.6M232.18 358.9V352.4M237.86 358.9V355.6M243.54 358.9V355.6M249.21 358.9V355.6M254.89 358.9V355.6M260.57 358.9V355.6M266.25 358.9V355.6M271.92 358.9V355.6M277.6 358.9V352.4M50.5 350.41H53.8M50.5 341.93H53.8M50.5 333.44H53.8M50.5 324.95H57M50.5 316.46H53.8M50.5 307.97H53.8M50.5 299.49H53.8M50.5 291H57M50.5 282.51H53.8M50.5 274.02H53.8M50.5 265.54H53.8M50.5 257.05H57M50.5 248.56H53.8M50.5 240.07H53.8M50.5 231.59H53.8M50.5 223.1H57" stroke="#7a7a7a" stroke-width="1" fill="none"/>
<path d="M50.5 223.1V358.9" stroke="#8a8a8a" stroke-width="1.1" fill="none"/>
<path d="M50 358.9H277.6" stroke="#8a8a8a" stroke-width="1.5" fill="none"/>
<text x="50.5" y="372.8" text-anchor="middle" font-size="10">-4</text>
<text x="95.92" y="372.8" text-anchor="middle" font-size="10">0</text>
<text x="141.34" y="372.8" text-anchor="middle" font-size="10">4</text>
<text x="186.76" y="372.8" text-anchor="middle" font-size="10">8</text>
<text x="232.18" y="372.8" text-anchor="middle" font-size="10">12</text>
<text x="277.6" y="372.8" text-anchor="middle" font-size="10">16</text>
<text x="46" y="228.1" text-anchor="end" font-size="10">0.4</text>
<text x="46" y="262.05" text-anchor="end" font-size="10">0.2</text>
<text x="46" y="296" text-anchor="end" font-size="10">0</text>
<text x="46" y="329.95" text-anchor="end" font-size="10">-0.2</text>
<text x="46" y="363.9" text-anchor="end" font-size="10">-0.4</text>
<text x="163.4" y="389.3" text-anchor="middle" font-size="10">Changes in NDVI Slope (×10<tspan dy="-4.3" font-size="7.5">-3</tspan><tspan dy="4.3"> yr</tspan><tspan dy="-4.3" font-size="7.5">-1</tspan><tspan dy="4.3">)</tspan></text>
<text transform="translate(24.6,290.8) rotate(-90)" text-anchor="middle" font-size="10">Changes in UTCI Slope (yr<tspan dy="-4.3" font-size="7.5">-1</tspan><tspan dy="4.3">)</tspan></text>
<text x="59" y="235.6" text-anchor="start" font-size="10">(c)</text>
<text x="200.4" y="244.7" font-size="10">r<tspan dy="-4.4" font-size="7.5">2</tspan><tspan dy="4.4">=0.07 </tspan><tspan font-style="italic">(p&lt;0.1)</tspan></text>
<path d="M70.2 290.2L233.8 318.1" stroke="#474747" stroke-width="1" fill="none"/>
<circle cx="87.9" cy="258.4" r="1.65" fill="none" stroke="#3a3a3a" stroke-width="0.7"/>
<circle cx="110.1" cy="244.6" r="1.65" fill="none" stroke="#3a3a3a" stroke-width="0.7"/>
<circle cx="109.1" cy="251.1" r="1.65" fill="none" stroke="#3a3a3a" stroke-width="0.7"/>
<circle cx="115.9" cy="268.2" r="1.65" fill="none" stroke="#3a3a3a" stroke-width="0.7"/>
<circle cx="134.1" cy="276.2" r="1.65" fill="none" stroke="#3a3a3a" stroke-width="0.7"/>
<circle cx="137.4" cy="277.7" r="1.65" fill="none" stroke="#3a3a3a" stroke-width="0.7"/>
<circle cx="122.9" cy="285.6" r="1.65" fill="none" stroke="#3a3a3a" stroke-width="0.7"/>
<circle cx="144.4" cy="282.3" r="1.65" fill="none" stroke="#3a3a3a" stroke-width="0.7"/>
<circle cx="145.3" cy="286.2" r="1.65" fill="none" stroke="#3a3a3a" stroke-width="0.7"/>
<circle cx="158" cy="287.9" r="1.65" fill="none" stroke="#3a3a3a" stroke-width="0.7"/>
<circle cx="168.6" cy="280.6" r="1.65" fill="none" stroke="#3a3a3a" stroke-width="0.7"/>
<circle cx="189.5" cy="293" r="1.65" fill="none" stroke="#3a3a3a" stroke-width="0.7"/>
<circle cx="126.7" cy="296.1" r="1.65" fill="none" stroke="#3a3a3a" stroke-width="0.7"/>
<circle cx="127.1" cy="301.8" r="1.65" fill="none" stroke="#3a3a3a" stroke-width="0.7"/>
<circle cx="113.7" cy="303.1" r="1.65" fill="none" stroke="#3a3a3a" stroke-width="0.7"/>
<circle cx="94.9" cy="303.5" r="1.65" fill="none" stroke="#3a3a3a" stroke-width="0.7"/>
<circle cx="112.2" cy="308" r="1.65" fill="none" stroke="#3a3a3a" stroke-width="0.7"/>
<circle cx="117.4" cy="309.1" r="1.65" fill="none" stroke="#3a3a3a" stroke-width="0.7"/>
<circle cx="116.5" cy="312.2" r="1.65" fill="none" stroke="#3a3a3a" stroke-width="0.7"/>
<circle cx="70.1" cy="312" r="1.65" fill="none" stroke="#3a3a3a" stroke-width="0.7"/>
<circle cx="92.4" cy="312.1" r="1.65" fill="none" stroke="#3a3a3a" stroke-width="0.7"/>
<circle cx="136.1" cy="311.8" r="1.65" fill="none" stroke="#3a3a3a" stroke-width="0.7"/>
<circle cx="152.4" cy="314.6" r="1.65" fill="none" stroke="#3a3a3a" stroke-width="0.7"/>
<circle cx="156" cy="317.9" r="1.65" fill="none" stroke="#3a3a3a" stroke-width="0.7"/>
<circle cx="121.4" cy="320.6" r="1.65" fill="none" stroke="#3a3a3a" stroke-width="0.7"/>
<circle cx="143.9" cy="322" r="1.65" fill="none" stroke="#3a3a3a" stroke-width="0.7"/>
<circle cx="112.4" cy="327.1" r="1.65" fill="none" stroke="#3a3a3a" stroke-width="0.7"/>
<circle cx="114.8" cy="331.1" r="1.65" fill="none" stroke="#3a3a3a" stroke-width="0.7"/>
<circle cx="150.4" cy="342.2" r="1.65" fill="none" stroke="#3a3a3a" stroke-width="0.7"/>
<circle cx="160.9" cy="350.1" r="1.65" fill="none" stroke="#3a3a3a" stroke-width="0.7"/>
<circle cx="233.8" cy="291.9" r="1.65" fill="none" stroke="#3a3a3a" stroke-width="0.7"/>
<circle cx="174.5" cy="301.7" r="1.65" fill="none" stroke="#3a3a3a" stroke-width="0.7"/>
<circle cx="191.3" cy="302.5" r="1.65" fill="none" stroke="#3a3a3a" stroke-width="0.7"/>
<circle cx="180.3" cy="306.8" r="1.65" fill="none" stroke="#3a3a3a" stroke-width="0.7"/>
<circle cx="181.6" cy="311.4" r="1.65" fill="none" stroke="#3a3a3a" stroke-width="0.7"/>
<circle cx="210" cy="320.4" r="1.65" fill="none" stroke="#3a3a3a" stroke-width="0.7"/>
<circle cx="218.9" cy="317.2" r="1.65" fill="none" stroke="#3a3a3a" stroke-width="0.7"/>
<circle cx="178" cy="333.8" r="1.65" fill="none" stroke="#3a3a3a" stroke-width="0.7"/>
<circle cx="207.2" cy="340" r="1.65" fill="none" stroke="#3a3a3a" stroke-width="0.7"/>
</svg>
</body></html>
